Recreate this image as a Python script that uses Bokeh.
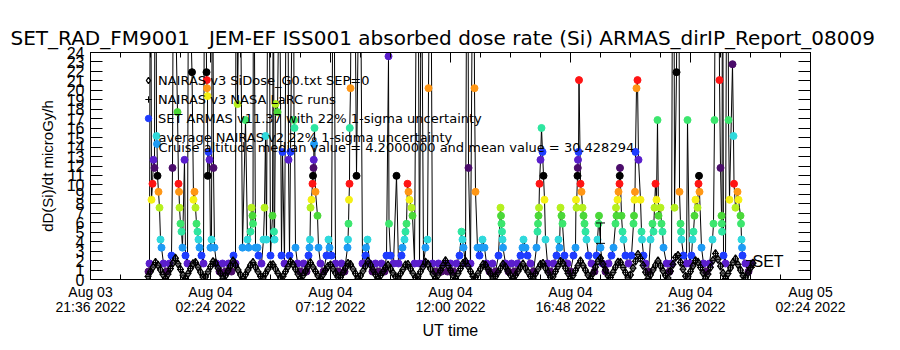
import numpy as np
from bokeh.plotting import figure
from bokeh.models import (Range1d, LinearAxis, FixedTicker, Label, Legend, LegendItem,
                          Whisker, TeeHead, ColumnDataSource, CustomJSTickFormatter)
from bokeh.embed import file_html
from bokeh.resources import INLINE

# ---------------- texts ----------------
TITLE = "SET_RAD_FM9001\u00a0\u00a0\u00a0JEM-EF ISS001 absorbed dose rate (Si) ARMAS_dirIP_Report_08009"
X_LABEL = "UT time"
Y_LABEL = "dD(Si)/dt microGy/h"
legend_labels = ["NAIRAS v3 SiDose_G0.txt SEP=0",
                 "NAIRAS v3 NASA LaRC runs",
                 "SET ARMAS v11.37 with 22% 1-sigma uncertainty"]
note_lines = ["average NAIRAS v2 22% 1-sigma uncertainty",
              "Cruise altitude median value = 4.2000000 and mean value = 30.428294"]
series_tag = "SET"

# ---------------- axes (minutes since 2022-08-03 00:00 UT) ----------------
x_start_min = 1296
x_end_min = 3024
tick_minutes = [1296, 1584, 1872, 2160, 2448, 2736, 3024]
tick_labels = ["Aug 03\n21:36 2022", "Aug 04\n02:24 2022", "Aug 04\n07:12 2022",
               "Aug 04\n12:00 2022", "Aug 04\n16:48 2022", "Aug 04\n21:36 2022",
               "Aug 05\n02:24 2022"]
minor_step_min = 72
y_ticks = list(range(0, 25))

# ---------------- NAIRAS v3 model (regular grid, hours since Aug 03 00:00) ----------------
nairas_t0_h = 23.9
nairas_dt_h = 0.1
nairas_dose = [
    0.32, 0.82, 1.31, 1.80, 1.51, 1.01, 0.52, 0.10,
    0.56, 1.16, 1.75, 2.25, 1.66, 1.06, 0.46, 0.11,
    0.63, 1.15, 1.67, 1.81, 1.30, 0.78, 0.26,
    0.27, 0.82, 1.36, 1.90, 1.75, 1.21, 0.66, 0.12,
    0.40, 0.92, 1.44, 1.96, 1.52, 1.01, 0.49,
    0.10, 0.52, 1.01, 1.51, 1.80, 1.31, 0.82, 0.32,
    0.16, 0.62, 1.09, 1.56, 1.58, 1.11, 0.64, 0.18,
    0.32, 0.84, 1.36, 1.88, 1.61, 1.09, 0.57, 0.10,
    0.42, 0.89, 1.35, 1.78, 1.32, 0.85, 0.38,
    0.10, 0.52, 0.96, 1.40, 1.56, 1.12, 0.68, 0.24,
    0.23, 0.72, 1.21, 1.70, 1.61, 1.11, 0.62, 0.13,
    0.38, 0.90, 1.42, 1.94, 1.54, 1.03, 0.51,
    0.10, 0.42, 0.84, 1.25, 1.53, 1.12, 0.70, 0.29,
    0.14, 0.61, 1.07, 1.54, 1.59, 1.13, 0.66, 0.20,
    0.30, 0.82, 1.34, 1.85, 1.63, 1.11, 0.59, 0.10,
    0.45, 0.96, 1.48, 2.00, 1.48, 0.96, 0.45,
    0.10, 0.62, 1.16, 1.71, 1.95, 1.40, 0.86, 0.32,
    0.20, 0.66, 1.13, 1.59, 1.54, 1.07, 0.61, 0.14,
    0.31, 0.75, 1.19, 1.63, 1.33, 0.89, 0.45, 0.10,
    0.43, 0.87, 1.31, 1.65, 1.21, 0.77, 0.33,
    0.13, 0.62, 1.11, 1.61, 1.70, 1.21, 0.72, 0.23,
    0.29, 0.84, 1.38, 1.93, 1.73, 1.19, 0.64, 0.10,
    0.42, 0.94, 1.46, 1.98, 1.50, 0.98, 0.47,
    0.10, 0.68, 1.31, 1.93, 2.25, 1.63, 1.01, 0.39,
    0.21, 0.75, 1.30, 1.84, 1.82, 1.27, 0.73, 0.18,
    0.48, 1.20, 1.93, 2.65, 2.22, 1.50, 0.77, 0.10,
    0.49, 1.01, 1.52, 1.96, 1.44, 0.92, 0.40,
    0.16, 0.88, 1.61, 2.34, 2.54, 1.81, 1.09, 0.36,
    0.29, 0.86, 1.43, 2.00, 1.83, 1.27, 0.70, 0.13,
    0.57, 1.29, 2.02, 2.74, 2.13, 1.41, 0.68, 0.10,
    0.63, 1.23, 1.82, 2.18, 1.58, 0.99, 0.39,
    0.18, 0.69, 1.21, 1.73,
]

# ---------------- SET ARMAS measurements (hours since Aug 03 00:00, microGy/h) ----------------
armas_time_h = [
    23.92, 23.96, 24.00, 24.04, 24.08, 24.12, 24.16, 24.20, 24.24, 24.26, 24.28, 24.32, 24.36, 24.40, 24.44, 24.52, 24.64, 24.76,
    24.84, 24.88, 24.92, 25.08, 25.12, 25.14, 25.16, 25.20, 25.24, 25.28, 25.36, 25.40, 25.48, 25.52,
    25.66, 25.72, 25.76, 25.80, 25.84, 25.88, 25.92, 25.96, 26.04, 26.12, 26.18, 26.24, 26.25, 26.26, 26.28, 26.29, 26.32, 26.36, 26.40, 26.44, 26.48, 26.52, 26.56, 26.64, 26.76, 26.88, 27.00, 27.12, 27.24,
    27.32, 27.40, 27.44, 27.48, 27.58, 27.68, 27.80, 27.88, 27.92, 28.00, 28.04, 28.08, 28.10, 28.12, 28.20, 28.28, 28.32, 28.44, 28.52, 28.56, 28.60, 28.64, 28.72, 28.80, 28.88, 28.92, 28.94, 28.96, 29.00, 29.08, 29.16,
    29.24, 29.28, 29.36, 29.48, 29.52, 29.56, 29.60, 29.72, 29.74, 29.76, 29.80, 29.88, 30.00, 30.12, 30.24, 30.32, 30.36, 30.38, 30.40, 30.44, 30.48, 30.50, 30.52, 30.53, 30.54, 30.56, 30.60, 30.68, 30.72, 30.80,
    30.92, 31.04, 31.12, 31.16, 31.24, 31.32, 31.40, 31.52, 31.64, 31.76, 31.88, 31.90, 31.92, 31.94, 31.96, 31.97, 32.00, 32.10, 32.24, 32.38, 32.48, 32.60, 32.62, 32.68, 32.76,
    32.88, 33.00, 33.12, 33.24, 33.36, 33.44, 33.52, 33.54, 33.60, 33.72, 33.84, 33.92, 34.04, 34.08, 34.16, 34.20, 34.24, 34.28, 34.32, 34.36, 34.44, 34.48, 34.56, 34.68, 34.76, 34.84, 34.92, 35.00, 35.08, 35.12, 35.20, 35.28, 35.40, 35.52, 35.64, 35.76, 35.88, 36.00, 36.12, 36.24,
    36.36, 36.44, 36.48, 36.52, 36.60, 36.68, 36.72, 36.80, 36.92, 36.96, 37.00, 37.08, 37.16, 37.24, 37.28, 37.36, 37.44, 37.56, 37.68, 37.80, 37.92, 38.00, 38.02, 38.04, 38.06, 38.08, 38.10, 38.20, 38.32, 38.44, 38.56, 38.68, 38.80, 38.88, 38.92, 39.00, 39.08, 39.20,
    39.32, 39.44, 39.48, 39.50, 39.52, 39.54, 39.56, 39.60, 39.64, 39.68, 39.72, 39.76, 39.80, 39.88, 40.00, 40.12, 40.24, 40.32, 40.36, 40.40, 40.44, 40.48, 40.56, 40.68, 40.80,
    40.92, 41.00, 41.02, 41.04, 41.08, 41.09, 41.10, 41.12, 41.14, 41.20, 41.24, 41.28, 41.32, 41.36, 41.40, 41.44, 41.52, 41.64, 41.76, 41.84, 41.88, 41.92, 41.94, 42.00, 42.08,
    42.20, 42.32, 42.44, 42.52, 42.60, 42.62, 42.64, 42.68, 42.72, 42.76, 42.77, 42.78, 42.84, 42.88, 42.92, 43.00, 43.12, 43.24, 43.32, 43.34, 43.36, 43.38, 43.40, 43.44, 43.48, 43.52, 43.60, 43.64, 43.66, 43.72, 43.80,
    43.92, 44.00, 44.08, 44.12, 44.16, 44.20, 44.24, 44.28, 44.32, 44.40, 44.44, 44.48, 44.52, 44.64, 44.76, 44.84, 44.92, 44.96, 45.04, 45.12, 45.16, 45.20, 45.22, 45.24, 45.32, 45.44, 45.48, 45.56,
    45.64, 45.68, 45.72, 45.76, 45.80, 45.88, 45.92, 45.94, 45.96, 46.04, 46.12, 46.24, 46.36,
    46.48, 46.52, 46.56, 46.66, 46.76, 46.80, 46.84, 46.85, 46.86, 46.88, 46.92, 47.00, 47.08, 47.12, 47.16, 47.28, 47.32, 47.34, 47.40, 47.48, 47.52, 47.60, 47.62, 47.64, 47.66, 47.68, 47.80, 47.92, 48.04,
]
armas_dose = [
    0.84, 1.69, 48, 8.43, 10.12, 12.65, 11.80, 63, 15.17, 14.33, 10.96, 9.27, 7.59, 4.22, 3.37, 1.69, 0.84, 1.69,
    2.53, 11.80, 41, 17.70, 10.12, 9.27, 7.59, 5.90, 5.06, 3.37, 12.65, 2.53, 1.69, 37,
    21.92, 8.43, 9.27, 7.59, 5.90, 5.06, 4.22, 3.37, 2.53, 1.69, 55, 21.92, 21.08, 20.23, 19.39, 10.96, 13.49, 12.65, 3.37, 4.22, 44, 11.80, 3.37, 1.69, 0.84, 1.69, 0.84, 1.69, 0.84,
    2.53, 1.69, 70, 18.55, 39, 3.37, 16.86, 4.22, 3.37, 5.06, 7.59, 6.74, 5.90, 46, 3.37, 3.37, 2.53, 1.69, 4.22, 7.59, 15.17, 4.22, 52, 2.53, 6.74, 40, 5.06, 4.22, 18.55, 17.70, 36,
    2.53, 13.49, 1.69, 58, 12.65, 2.53, 13.49, 42, 16.86, 16.02, 3.37, 1.69, 0.84, 1.69, 0.84, 2.53, 3.37, 4.22, 7.59, 8.43, 10.12, 10.96, 11.80, 12.65, 14.33, 16.02, 9.27, 6.74, 3.37, 1.69,
    0.84, 2.53, 4.22, 3.37, 2.53, 47, 1.69, 0.84, 1.69, 0.84, 3.37, 4.22, 5.90, 8.43, 10.12, 16.02, 20.23, 61, 10.96, 43, 1.69, 2.53, 3.37, 4.22, 1.69,
    0.84, 1.69, 0.84, 1.69, 0.84, 2.53, 23.60, 5.90, 2.53, 1.69, 10.96, 1.69, 2.53, 3.37, 4.22, 5.06, 5.90, 10.12, 9.27, 8.43, 7.59, 6.74, 1.69, 50, 1.69, 38, 1.69, 3.37, 4.22, 20.23, 45, 1.69, 0.84, 1.69, 0.84, 1.69, 0.84, 1.69, 0.84, 1.69,
    2.53, 5.06, 4.22, 3.37, 1.69, 57, 11.80, 1.69, 49, 20.23, 9.27, 3.37, 2.53, 3.37, 4.22, 3.37, 1.69, 0.84, 1.69, 0.84, 2.53, 7.59, 6.74, 5.90, 5.06, 4.22, 3.37, 1.69, 0.84, 1.69, 0.84, 1.69, 2.53, 3.37, 4.22, 3.37, 2.53, 1.69,
    0.84, 3.37, 5.06, 5.90, 6.74, 7.59, 10.12, 12.65, 16.02, 13.49, 10.96, 8.43, 4.22, 1.69, 0.84, 1.69, 2.53, 4.22, 3.37, 7.59, 6.74, 5.90, 2.53, 1.69, 0.84,
    2.53, 3.37, 8.43, 7.59, 10.96, 11.80, 12.65, 13.49, 21.08, 10.12, 9.27, 7.59, 6.74, 5.90, 5.06, 4.22, 2.53, 1.69, 0.84, 2.53, 4.22, 5.90, 6.74, 3.37, 1.69,
    0.84, 1.69, 2.53, 3.37, 5.90, 7.59, 6.74, 8.43, 9.27, 10.12, 10.96, 11.80, 6.74, 5.06, 4.22, 2.53, 1.69, 2.53, 5.90, 6.74, 8.43, 9.27, 13.49, 20.23, 21.08, 12.65, 8.43, 5.06, 4.22, 2.53, 1.69,
    0.84, 4.22, 5.90, 5.06, 7.59, 10.12, 8.43, 16.86, 6.74, 7.59, 5.90, 5.06, 3.37, 1.69, 0.84, 1.69, 66, 7.59, 21.92, 53, 9.27, 5.90, 5.06, 4.22, 2.53, 1.69, 16.86, 1.69,
    2.53, 4.22, 5.06, 6.74, 8.43, 7.59, 10.12, 10.96, 9.27, 3.37, 1.69, 0.84, 1.69,
    4.22, 5.90, 16.86, 72, 21.08, 11.80, 6.74, 5.90, 5.06, 44, 2.53, 1.69, 59, 16.86, 8.43, 22.76, 15.17, 10.12, 7.59, 9.27, 8.43, 6.74, 5.90, 4.22, 3.37, 2.53, 1.69, 0.84, 1.69,
]

# ---------------- uncertainty bars ----------------
errbar_time_h = [42.0, 48.0]
errbar_dose = [4.9, 1.64]
REL_UNC = 0.22
set_tag_time_h = 48.08
set_tag_dose = 1.9

# ---------------- styling ----------------
DOSE_STEP = 0.843
PALETTE13 = ["#000000", "#4b0c6b", "#5a1ecc", "#1e3cff", "#1e9bf5", "#2fd9dc", "#2ee6a0",
             "#3ce66e", "#4ad838", "#b4f01e", "#f5f014", "#ff9614", "#ff1414"]
FONT = "Liberation Sans"
FONT2 = "DejaVu Sans"

p = figure(width=900, height=350, output_backend="svg", toolbar_location=None,
           x_range=Range1d(x_start_min, x_end_min), y_range=Range1d(0, 24),
           x_axis_type=None, y_axis_type=None, title=TITLE,
           min_border_left=90, min_border_right=90, min_border_top=52, min_border_bottom=71,
           background_fill_color="white", border_fill_color="white")
p.outline_line_color = "black"
p.outline_line_width = 1
p.title.text_font = FONT2
p.title.text_font_size = "20px"
p.title.text_font_style = "normal"
p.title.text_color = "black"
p.title.align = "left"
p.title.offset = -80
p.title.standoff = 6

minor_x = list(range(x_start_min, x_end_min + 1, minor_step_min))
xt = FixedTicker(ticks=tick_minutes, minor_ticks=minor_x)
yt = FixedTicker(ticks=y_ticks, minor_ticks=[])
blank = CustomJSTickFormatter(code="return ''")

bottom = LinearAxis(ticker=xt, axis_label=X_LABEL,
                    major_label_overrides={m: s for m, s in zip(tick_minutes, tick_labels)},
                    major_tick_in=10, major_tick_out=0, minor_tick_in=5, minor_tick_out=0,
                    major_label_standoff=4, axis_label_standoff=4,
                    major_label_text_font=FONT, major_label_text_font_size="14px",
                    major_label_text_line_height=0.95, major_label_text_color="black",
                    axis_label_text_font=FONT, axis_label_text_font_size="16px",
                    axis_label_text_font_style="normal", axis_label_text_color="black",
                    axis_line_color="black")
top = LinearAxis(ticker=xt, formatter=blank, major_tick_in=10, major_tick_out=0,
                 minor_tick_in=5, minor_tick_out=0, major_label_standoff=0,
                 major_label_text_font_size="1px")
left = LinearAxis(ticker=yt, axis_label=Y_LABEL, major_tick_in=12, major_tick_out=0,
                  minor_tick_in=0, minor_tick_out=0, major_label_standoff=6,
                  axis_label_standoff=8,
                  major_label_text_font=FONT, major_label_text_font_size="16px",
                  major_label_text_color="black",
                  axis_label_text_font=FONT, axis_label_text_font_size="15px",
                  axis_label_text_font_style="normal", axis_label_text_color="black")
right = LinearAxis(ticker=yt, formatter=blank, major_tick_in=12, major_tick_out=0,
                   minor_tick_in=0, minor_tick_out=0, major_label_standoff=0,
                   major_label_text_font_size="1px")
p.add_layout(bottom, "below")
p.add_layout(top, "above")
p.add_layout(left, "left")
p.add_layout(right, "right")

# ARMAS series: connecting line then colour-coded dots
a_x = np.array(armas_time_h) * 60.0
a_y = np.array(armas_dose)
lvl = np.rint(a_y / DOSE_STEP).astype(int) % 13
a_col = [PALETTE13[i] for i in lvl]
src_a = ColumnDataSource(dict(x=a_x, y=a_y, c=a_col))
p.line("x", "y", source=src_a, line_color="black", line_width=1)
r_armas = p.scatter("x", "y", source=src_a, marker="circle", size=7,
                    fill_color="c", line_color="c")
blue_index = int(np.nonzero(lvl == 3)[0][0])

# NAIRAS model
n_y = np.array(nairas_dose)
n_x = (nairas_t0_h + nairas_dt_h * np.arange(len(n_y))) * 60.0
r_dia = p.scatter(n_x, n_y, marker="diamond", size=8, fill_color=None,
                  line_color="black", line_width=1.3)
r_crs = p.scatter(n_x, n_y, marker="cross", size=7, line_color="black", line_width=1)

# uncertainty bars
eb_c = np.array(errbar_dose)
eb_src = ColumnDataSource(dict(base=np.array(errbar_time_h) * 60.0,
                               lower=eb_c * (1 - REL_UNC), upper=eb_c * (1 + REL_UNC)))
p.add_layout(Whisker(source=eb_src, base="base", lower="lower", upper="upper",
                     dimension="height", line_color="black", line_width=1, level="overlay",
                     upper_head=TeeHead(size=9, line_color="black", line_width=1),
                     lower_head=TeeHead(size=9, line_color="black", line_width=1)))
p.add_layout(Label(x=set_tag_time_h * 60.0, y=set_tag_dose, text=series_tag,
                   text_font=FONT, text_font_size="16px", text_color="black",
                   text_baseline="alphabetic"))

legend = Legend(items=[LegendItem(label=legend_labels[0], renderers=[r_dia]),
                       LegendItem(label=legend_labels[1], renderers=[r_crs]),
                       LegendItem(label=legend_labels[2], renderers=[r_armas],
                                  index=blue_index)],
                location=(50, 153), orientation="vertical",
                background_fill_alpha=0, border_line_color=None, padding=0, margin=0,
                spacing=3, glyph_width=16, glyph_height=16, label_height=16,
                label_standoff=2, label_text_font=FONT2, label_text_font_size="13px",
                label_text_color="black")
p.add_layout(legend)

p.add_layout(Label(x=68, y=142, x_units="screen", y_units="screen", text=note_lines[0],
                   text_font=FONT2, text_font_size="13px", text_color="black",
                   text_baseline="alphabetic"))
p.add_layout(Label(x=68, y=132, x_units="screen", y_units="screen", text=note_lines[1],
                   text_font=FONT2, text_font_size="13px", text_color="black",
                   text_baseline="alphabetic"))

open("out.html", "w").write(file_html(p, INLINE))
